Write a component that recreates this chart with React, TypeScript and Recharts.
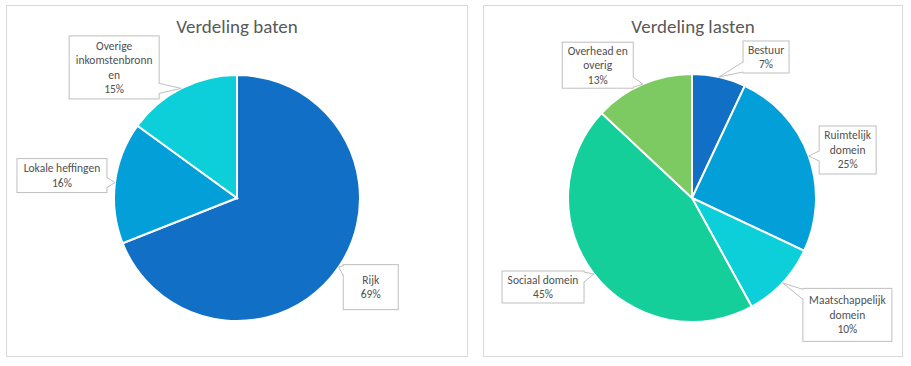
import React from "react";
import { Pie, PieChart, Cell } from "recharts";

// Verdeling baten
const batenNames = ["Rijk", "Lokale heffingen", "Overige inkomstenbronnen"];
const batenValues = [69, 16, 15];
const batenColors = ["#1170C6", "#029FD9", "#0DCFDA"];

// Verdeling lasten
const lastenNames = [
  "Bestuur",
  "Ruimtelijk domein",
  "Maatschappelijk domein",
  "Sociaal domein",
  "Overhead en overig",
];
const lastenValues = [7, 25, 10, 45, 13];
const lastenColors = ["#1170C6", "#029FD9", "#0DCFDA", "#14CF9A", "#7DC962"];

// how Excel wrapped the label names
const wrapped: Record<string, string[]> = {
  Rijk: ["Rijk"],
  "Lokale heffingen": ["Lokale heffingen"],
  "Overige inkomstenbronnen": ["Overige", "inkomstenbronn", "en"],
  Bestuur: ["Bestuur"],
  "Ruimtelijk domein": ["Ruimtelijk", "domein"],
  "Maatschappelijk domein": ["Maatschappelijk", "domein"],
  "Sociaal domein": ["Sociaal domein"],
  "Overhead en overig": ["Overhead en", "overig"],
};

// callout box placement relative to the slice edge (dx, dy = box centre offset)
type Box = { dx: number; dy: number; w: number; h: number };
const batenBoxes: Box[] = [
  { dx: 32, dy: 20, w: 55, h: 45 },
  { dx: -53, dy: -7, w: 90, h: 34 },
  { dx: -67, dy: -21, w: 90, h: 63 },
];
const lastenBoxes: Box[] = [
  { dx: 47, dy: -20, w: 46, h: 32 },
  { dx: 39, dy: -6, w: 57, h: 48 },
  { dx: 65, dy: 32, w: 89, h: 53 },
  { dx: -51, dy: 13, w: 82, h: 32 },
  { dx: -45, dy: -19, w: 71, h: 46 },
];

const FONT = "Carlito, Calibri, Lato, 'Open Sans', sans-serif";
const RAD = Math.PI / 180;
const NO_MARGIN = { top: 0, right: 0, bottom: 0, left: 0 };

const makeLabel = (boxes: Box[]) => (props: any) => {
  const { cx, cy, midAngle, outerRadius, index, name, value } = props;
  const tipX = cx + outerRadius * Math.cos(-midAngle * RAD);
  const tipY = cy + outerRadius * Math.sin(-midAngle * RAD);
  const b = boxes[index];
  const bx = tipX + b.dx - b.w / 2;
  const by = tipY + b.dy - b.h / 2;

  const dxOut = Math.max(bx - tipX, tipX - (bx + b.w), 0);
  const dyOut = Math.max(by - tipY, tipY - (by + b.h), 0);
  const half = 5;
  let p1: [number, number];
  let p2: [number, number];
  let q1: [number, number];
  let q2: [number, number];
  if (dxOut >= dyOut) {
    const sx = tipX < bx ? bx : bx + b.w;
    const inset = tipX < bx ? 1 : -1;
    const c = Math.min(Math.max(tipY, by + half + 1), by + b.h - half - 1);
    p1 = [sx, c - half];
    p2 = [sx, c + half];
    q1 = [sx + inset, c - half];
    q2 = [sx + inset, c + half];
  } else {
    const sy = tipY < by ? by : by + b.h;
    const inset = tipY < by ? 1 : -1;
    const c = Math.min(Math.max(tipX, bx + half + 1), bx + b.w - half - 1);
    p1 = [c - half, sy];
    p2 = [c + half, sy];
    q1 = [c - half, sy + inset];
    q2 = [c + half, sy + inset];
  }

  const lines = [...(wrapped[name] || [name]), `${value}%`];
  const lh = 14.5;
  const midX = bx + b.w / 2;
  const startY = by + b.h / 2 - ((lines.length - 1) * lh) / 2;

  return (
    <g>
      <rect x={bx} y={by} width={b.w} height={b.h} fill="#fff" stroke="#BFBFBF" strokeWidth={1} />
      <polygon
        points={`${q1[0]},${q1[1]} ${tipX},${tipY} ${q2[0]},${q2[1]}`}
        fill="#fff"
        stroke="none"
      />
      <line x1={p1[0]} y1={p1[1]} x2={tipX} y2={tipY} stroke="#BFBFBF" strokeWidth={1} />
      <line x1={p2[0]} y1={p2[1]} x2={tipX} y2={tipY} stroke="#BFBFBF" strokeWidth={1} />
      {lines.map((t, i) => (
        <text
          key={i}
          x={midX}
          y={startY + i * lh}
          textAnchor="middle"
          dominantBaseline="central"
          fontSize={11.5}
          fontFamily={FONT}
          fill="#505050"
        >
          {t}
        </text>
      ))}
    </g>
  );
};

const panelStyle = (left: number, width: number): React.CSSProperties => ({
  position: "absolute",
  left,
  top: 5,
  width,
  height: 350,
  border: "1px solid #D9D9D9",
  background: "#fff",
});

const titleStyle: React.CSSProperties = {
  position: "absolute",
  left: 0,
  right: 0,
  top: 11,
  textAlign: "center",
  fontFamily: FONT,
  fontSize: 19,
  lineHeight: "20px",
  color: "#595959",
};

export default function App() {
  const baten = batenNames.map((name, i) => ({ name, value: batenValues[i] }));
  const lasten = lastenNames.map((name, i) => ({ name, value: lastenValues[i] }));

  return (
    <div style={{ position: "absolute", left: 0, top: 0, width: 911, height: 366, background: "#fff" }}>
      <div style={panelStyle(6, 460)}>
        <div style={titleStyle}>Verdeling baten</div>
        <PieChart width={460} height={350} margin={NO_MARGIN} style={{ position: "absolute", left: 0, top: 0 }}>
          <Pie
            data={baten}
            dataKey="value"
            nameKey="name"
            cx={230}
            cy={192}
            outerRadius={123}
            startAngle={90}
            endAngle={-270}
            stroke="#fff"
            strokeWidth={2}
            label={makeLabel(batenBoxes)}
            labelLine={false}
            isAnimationActive={false}
          >
            {baten.map((d, i) => (
              <Cell key={d.name} fill={batenColors[i]} />
            ))}
          </Pie>
        </PieChart>
      </div>
      <div style={panelStyle(483, 418)}>
        <div style={titleStyle}>Verdeling lasten</div>
        <PieChart width={418} height={350} margin={NO_MARGIN} style={{ position: "absolute", left: 0, top: 0 }}>
          <Pie
            data={lasten}
            dataKey="value"
            nameKey="name"
            cx={208}
            cy={192}
            outerRadius={124}
            startAngle={90}
            endAngle={-270}
            stroke="#fff"
            strokeWidth={2}
            label={makeLabel(lastenBoxes)}
            labelLine={false}
            isAnimationActive={false}
          >
            {lasten.map((d, i) => (
              <Cell key={d.name} fill={lastenColors[i]} />
            ))}
          </Pie>
        </PieChart>
      </div>
    </div>
  );
}
